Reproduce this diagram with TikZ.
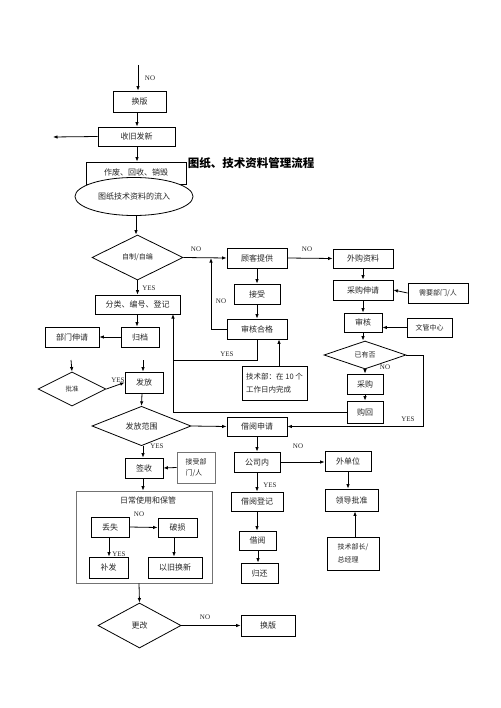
\documentclass[tikz,border=0pt]{standalone}
\usepackage{fontspec}
\setmainfont{Noto Sans CJK SC}
\newfontfamily\lat{Liberation Serif}
\usetikzlibrary{shapes.geometric,arrows.meta}
\begin{document}
\begin{tikzpicture}[x=1pt,y=-1pt,
  every node/.style={font=\fontsize{8}{10}\selectfont, text=black!85},
  box/.style={draw, line width=0.8pt, inner sep=0pt},
  gbox/.style={draw=black!55, line width=0.8pt, inner sep=0pt},
  dia/.style={draw, diamond, line width=0.8pt, inner sep=0pt, font=\fontsize{7}{8}\selectfont},
  sz/.style 2 args={minimum width=#1, minimum height=#2},
  arr/.style={-{Latex[length=4.5pt,width=3.5pt]}, line width=0.8pt},
  ln/.style={line width=0.8pt},
  lbl/.style={font=\lat\fontsize{7}{8}\selectfont, inner sep=0pt}
]
\fill[white] (0,0) rectangle (500,708);
\useasboundingbox (0,0) rectangle (500,708);

% left column top
\node[box, sz={53pt}{21pt}] (hbA) at (139.5,101.5) {换版};
\node[box, sz={77pt}{19pt}] (sj) at (136.5,136.5) {收旧发新};
\node[box, sz={100pt}{22pt}] (zf) at (136,173) {\raisebox{1.5pt}{作废、回收、销毁}};
\node[draw, ellipse, line width=0.8pt, fill=white, sz={118pt}{38pt}, inner sep=0pt] (el) at (134,196.5) {图纸技术资料的流入};
\node[font=\fontsize{11.5}{13}\selectfont\bfseries, text=black, inner sep=0pt] (title) at (251,163) {图纸、技术资料管理流程};

\node[dia, sz={91pt}{45pt}] (d1) at (137.5,257.5) {自制/自编};
\node[box, sz={85pt}{19pt}] (fl) at (137.5,304.5) {分类、编号、登记};
\node[box, sz={38pt}{20pt}] (gd) at (140,337) {归档};
\node[box, sz={54pt}{20pt}] (bm) at (72,337) {部门伸请};
\node[dia, sz={68pt}{34pt}, font=\fontsize{6.5}{8}\selectfont] (pz) at (72,389) {批准};
\node[box, sz={38pt}{21pt}] (ff) at (144,382.5) {发放};
\node[dia, sz={99pt}{38pt}, font=\fontsize{8}{10}\selectfont] (fw) at (141.5,426) {发放范围};
\node[box, sz={38pt}{20pt}] (qs) at (144,468) {签收};
\node[gbox, sz={38pt}{31pt}, align=left, font=\fontsize{7}{11}\selectfont] (jsb) at (196,467.5) {接受部\\门/人};

\node[gbox, sz={136pt}{92pt}] (big) at (144,537) {};
\node (bigT) at (148,500) {日常使用和保管};
\node[box, sz={38pt}{20pt}] (ds) at (110,527) {丢失};
\node[box, sz={39pt}{19pt}] (ps) at (177.5,527.5) {破损};
\node[box, sz={39pt}{21pt}] (bf) at (108.5,567.5) {补发};
\node[box, sz={54pt}{21pt}] (yj) at (175,567.5) {以旧换新};
\node[dia, sz={83pt}{45pt}, font=\fontsize{8}{10}\selectfont] (gg) at (139.5,625.5) {更改};
\node[box, sz={54pt}{21pt}] (hbB) at (268,625.5) {换版};

% middle column
\node[box, sz={60pt}{20pt}] (gk) at (257,258) {顾客提供};
\node[box, sz={46pt}{20pt}] (js) at (257,294) {接受};
\node[box, sz={60pt}{20pt}] (sh) at (257,329) {审核合格};
\node[box, sz={65pt}{34pt}, align=left, font=\fontsize{7.5}{13}\selectfont] (tb) at (274.5,383) {技术部：在 10 个\\工作日内完成};
\node[box, sz={60pt}{19pt}] (jy) at (257,426.5) {借阅申请};
\node[box, sz={46pt}{20pt}] (gsn) at (257,462) {公司内};
\node[box, sz={52pt}{19pt}] (jd) at (257,501.5) {借阅登记};
\node[box, sz={37pt}{19pt}] (jyb) at (257.5,540.5) {借阅};
\node[box, sz={37pt}{20pt}] (gh2) at (259.5,573) {归还};

% right column
\node[box, sz={60pt}{19pt}] (wg) at (363,258.5) {外购资料};
\node[box, sz={60pt}{20pt}] (cg) at (363,290) {采购伸请};
\node[box, sz={60pt}{20pt}, font=\fontsize{7}{9}\selectfont] (xy) at (438,293) {需要部门/人};
\node[box, sz={38pt}{19pt}] (shk) at (363,322.5) {审核};
\node[box, sz={45pt}{19pt}, font=\fontsize{7}{9}\selectfont] (wz) at (429.5,327.5) {文管中心};
\node[dia, sz={82pt}{28pt}] (yy) at (365,355) {已有否};
\node[box, sz={36pt}{20pt}] (cgo) at (365,384) {采购};
\node[box, sz={36pt}{22pt}] (gh) at (365,412) {购回};
\node[box, sz={46pt}{20pt}] (wdw) at (348,461) {外单位};
\node[box, sz={53pt}{22pt}] (ld) at (351.5,500) {领导批准};
\node[box, sz={52pt}{33pt}, align=left, font=\fontsize{7}{13}\selectfont] (jz) at (353,553.5) {技术部长/\\总经理};

% coordinates
\coordinate (top) at (138,65);
\coordinate (leftend) at (53,137);
\coordinate (j1) at (211,258);
\coordinate (j2) at (173,314);
\coordinate (j3) at (173,360);
\coordinate (s1) at (71,360);
\coordinate (s2) at (143,360);
\coordinate (r1) at (423,355);

% connectors
\draw[arr] (top) -- (top |- hbA.north);
\draw[arr] (hbA.south -| 137,0) -- (sj.north -| 137,0);
\draw[arr] (sj.west) -- (leftend);
\draw[arr] (sj.south -| 137,0) -- (zf.north -| 137,0);
\draw[arr] (el.south -| 136,0) -- (d1.north -| 136,0);
\draw[arr] (d1.east) -- (gk.west);
\draw[arr] (gk.south) -- (js.north);
\draw[arr] (js.south) -- (sh.north);
\draw[arr] (sh.west) -| (j1);
\draw[arr] (d1.south) -- (fl.north);
\draw[arr] (fl.south -| 137,0) -- (gd.north -| 137,0);
\draw[arr] (gd.west) -- (bm.east);
\draw[arr] (s1) -- (pz.north);
\draw[arr] (pz.east) -- (ff.west);
\draw[arr] (s2) -- (s2 |- ff.north);
\draw[arr] (ff.south -| 142,0) -- (fw.north);
\draw[arr] (fw.east) -- (jy.west);
\draw[arr] (fw.south -| 143,0) -- (qs.north -| 143,0);
\draw[arr] (jsb.west) -- (qs.east);
\draw[arr] (qs.south -| 143,0) -- (big.north -| 143,0);
\draw[arr] (ds.east) -- (ps.west);
\draw[arr] (ds.south -| 109,0) -- (bf.north -| 109,0);
\draw[arr] (ps.south -| 174,0) -- (yj.north -| 174,0);
\draw[arr] (big.south -| 139,0) -- (gg.north);
\draw[arr] (gg.east) -- (hbB.west);
\draw[arr] (gk.east) -- (wg.west);
\draw[arr] (wg.south) -- (cg.north);
\draw[arr] (xy.west) -- (cg.east);
\draw[arr] (cg.south) -- (shk.north);
\draw[arr] (wz.west) -- (wz.west -| shk.east);
\draw[arr] (shk.south) -- (yy.north -| shk.south);
\draw[arr] (yy.south) -- (cgo.north);
\draw[arr] (cgo.south) -- (gh.north);
\draw[arr] (gh.west) -| (j2);
\draw[ln] (sh.south) |- (j3);
\draw[arr] (yy.east) -- (r1) |- (jy.east);
\draw[arr] ([xshift=4.5pt]tb.north) -- ([xshift=4.5pt]tb.north |- sh.south);
\draw[arr] (jy.south) -- (gsn.north);
\draw[arr] (gsn.east) -- (gsn.east -| wdw.west);
\draw[arr] (wdw.south) -- (wdw.south |- ld.north);
\draw[arr] (jz.north -| 355,0) -- (ld.south -| 355,0);
\draw[arr] (gsn.south) -- (jd.north);
\draw[arr] (jd.south) -- (jd.south |- jyb.north);
\draw[arr] (jyb.south -| 258,0) -- (gh2.north -| 258,0);

% labels
\node[lbl] at (150,78) {NO};
\node[lbl] at (196,249) {NO};
\node[lbl] at (221,301) {NO};
\node[lbl] at (149,288) {YES};
\node[lbl] at (227,354) {YES};
\node[lbl] at (118,380) {YES};
\node[lbl] at (157,446) {YES};
\node[lbl] at (139,514) {NO};
\node[lbl] at (119,554) {YES};
\node[lbl] at (205,617) {NO};
\node[lbl] at (307,249) {NO};
\node[lbl] at (385,367) {NO};
\node[lbl] at (408,419) {YES};
\node[lbl] at (298,446) {NO};
\node[lbl] at (270,485) {YES};
\end{tikzpicture}
\end{document}
